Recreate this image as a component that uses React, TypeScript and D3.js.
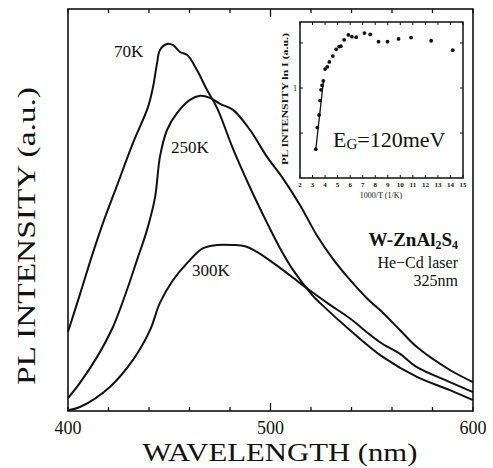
import React, { useEffect, useRef } from 'react';
import * as d3 from 'd3';

// main spectra (wavelength nm, intensity a.u. 0..100)
const wl70 = [400, 405.9, 411.7, 417.3, 424.0, 432.1, 439.5, 442.0, 444.0, 445.4, 448.9, 451.9, 455.3, 458.8, 463.7, 468.6, 473.6, 481.5, 489.9, 498.3, 504.7, 511.1, 520.5, 524.4, 539.3, 555.6, 572.3, 588.6, 600];
const int70 = [19.7, 29.0, 38.4, 46.8, 55.8, 66.7, 75.6, 80.6, 86.6, 89.8, 91.3, 91.0, 89.3, 88.6, 84.8, 79.9, 75.4, 65.2, 55.6, 46.8, 40.5, 35.1, 28.9, 26.9, 20.1, 13.4, 8.5, 5.2, 2.7];

const wl250 = [400, 405.9, 414.3, 422.2, 429.1, 434.1, 439.0, 443.0, 445.4, 448.9, 453.8, 460.2, 465.2, 470.1, 475.1, 481.5, 489.9, 498.3, 506.2, 514.6, 523.0, 530.9, 539.3, 547.7, 554.1, 564.0, 572.3, 588.6, 600];
const int250 = [3.2, 7.0, 13.4, 20.9, 30.1, 37.6, 45.0, 53.2, 63.2, 69.9, 74.1, 77.4, 78.4, 77.9, 76.4, 74.9, 69.9, 63.2, 57.8, 51.2, 43.6, 37.8, 32.6, 28.0, 25.1, 20.1, 15.9, 10.2, 7.2];

const wl300 = [400, 405.9, 420.7, 432.1, 440.5, 445.4, 451.9, 458.8, 466.7, 473.6, 481.5, 487.4, 493.3, 504.7, 514.6, 521.0, 529.4, 539.3, 549.1, 555.6, 564.0, 572.3, 588.6, 600];
const int300 = [0.2, 1.0, 6.0, 12.7, 20.1, 26.9, 32.6, 36.8, 40.5, 41.3, 41.3, 41.0, 39.6, 35.6, 31.8, 29.4, 26.4, 23.0, 19.0, 16.6, 14.2, 10.9, 7.2, 4.7];

const xTickLabels = [400, 500, 600];

// inset: PL intensity (log) vs 1000/T
const invT = [3.26, 3.38, 3.52, 3.6, 3.68, 3.76, 3.86, 4.0, 4.18, 4.34, 4.62, 4.88, 5.12, 5.26, 5.52, 5.86, 6.14, 6.48, 7.14, 7.6, 8.26, 8.98, 9.86, 10.86, 12.46, 14.18];
const logI = [-1.36, -0.88, -0.6, -0.28, -0.04, 0.06, 0.16, 0.42, 0.47, 0.58, 0.71, 0.86, 0.92, 0.93, 1.07, 1.18, 1.14, 1.13, 1.22, 1.19, 1.03, 1.03, 1.09, 1.12, 1.05, 0.84];
const fitInvT = [3.26, 3.88];
const fitLogI = [-1.36, 0.18];
const insetTicks = [2, 3, 4, 5, 6, 7, 8, 9, 10, 11, 12, 13, 14, 15];

const FONT = '"Liberation Serif", "Times New Roman", serif';

const Chart = () => {
  const ref = useRef<SVGSVGElement>(null);

  useEffect(() => {
    const svg = d3.select(ref.current);
    svg.selectAll('*').remove();

    const x = d3.scaleLinear().domain([400, 600]).range([68, 473]);
    const y = d3.scaleLinear().domain([0, 100]).range([411, 9]);

    // frame
    svg.append('rect')
      .attr('x', 68).attr('y', 9).attr('width', 405).attr('height', 402)
      .attr('fill', 'none').attr('stroke', '#111').attr('stroke-width', 1.6);

    // inward ticks top & bottom
    d3.range(400, 601, 20).forEach((v) => {
      const len = v === 500 ? 8 : 4;
      svg.append('line').attr('x1', x(v)).attr('x2', x(v)).attr('y1', 411).attr('y2', 411 - len)
        .attr('stroke', '#111').attr('stroke-width', 1.3);
      svg.append('line').attr('x1', x(v)).attr('x2', x(v)).attr('y1', 9).attr('y2', 9 + len)
        .attr('stroke', '#111').attr('stroke-width', 1.3);
    });

    svg.selectAll('.xlab').data(xTickLabels).enter().append('text')
      .attr('x', (d) => x(d)).attr('y', 434)
      .attr('text-anchor', 'middle').attr('font-size', 18).attr('font-family', FONT)
      .attr('fill', '#111').text((d) => d);

    svg.append('text').attr('x', 280).attr('y', 461).attr('text-anchor', 'middle')
      .attr('font-size', 26).attr('font-family', FONT).attr('fill', '#111')
      .attr('textLength', 275).attr('lengthAdjust', 'spacingAndGlyphs')
      .text('WAVELENGTH (nm)');

    svg.append('text').attr('transform', 'translate(35,236) rotate(-90)').attr('text-anchor', 'middle')
      .attr('font-size', 26).attr('font-family', FONT).attr('fill', '#111')
      .attr('textLength', 298).attr('lengthAdjust', 'spacingAndGlyphs')
      .text('PL INTENSITY (a.u.)');

    const line = d3.line<[number, number]>()
      .x((d) => x(d[0])).y((d) => y(d[1]))
      .curve(d3.curveCatmullRom.alpha(0.5));

    [[wl70, int70], [wl250, int250], [wl300, int300]].forEach(([w, v]) => {
      svg.append('path')
        .datum(w.map((d, i) => [d, v[i]] as [number, number]))
        .attr('d', line).attr('fill', 'none').attr('stroke', '#111').attr('stroke-width', 2);
    });

    const lab = (t: string, px: number, py: number, size: number, anchor = 'start', weight = 'normal') =>
      svg.append('text').attr('x', px).attr('y', py).attr('font-size', size).attr('font-family', FONT)
        .attr('font-weight', weight).attr('text-anchor', anchor).attr('fill', '#111').text(t);

    lab('70K', 114, 57, 17);
    lab('250K', 171, 153, 17);
    lab('300K', 192, 276, 17);

    const wz = lab('', 458, 246, 19, 'end', 'bold');
    wz.append('tspan').text('W-ZnAl');
    wz.append('tspan').attr('font-size', 12).attr('dy', 3).text('2');
    wz.append('tspan').attr('dy', -3).text('S');
    wz.append('tspan').attr('font-size', 12).attr('dy', 3).text('4');
    lab('He\u2212Cd laser', 458, 268, 16, 'end');
    lab('325nm', 458, 286, 16, 'end');

    // inset
    const ix = d3.scaleLinear().domain([2, 15]).range([300, 463]);
    const iy = d3.scaleLinear().domain([-2, 1.467]).range([178, 22]);
    const g = svg.append('g');
    g.append('rect').attr('x', 300).attr('y', 22).attr('width', 163).attr('height', 156)
      .attr('fill', 'white').attr('stroke', '#111').attr('stroke-width', 1.5);

    insetTicks.forEach((v) => {
      g.append('line').attr('x1', ix(v)).attr('x2', ix(v)).attr('y1', 178).attr('y2', 175)
        .attr('stroke', '#111').attr('stroke-width', 1);
      g.append('line').attr('x1', ix(v)).attr('x2', ix(v)).attr('y1', 22).attr('y2', 25)
        .attr('stroke', '#111').attr('stroke-width', 1);
    });
    [-1, 0, 1].forEach((v) => {
      g.append('line').attr('x1', 300).attr('x2', 303).attr('y1', iy(v)).attr('y2', iy(v))
        .attr('stroke', '#111').attr('stroke-width', 1);
      g.append('line').attr('x1', 463).attr('x2', 460).attr('y1', iy(v)).attr('y2', iy(v))
        .attr('stroke', '#111').attr('stroke-width', 1);
    });
    g.selectAll('.ilab').data(insetTicks).enter().append('text')
      .attr('x', (d) => ix(d)).attr('y', 187).attr('text-anchor', 'middle')
      .attr('font-size', 7).attr('font-weight', 'bold').attr('font-family', FONT).attr('fill', '#111')
      .text((d) => d);
    g.append('text').attr('x', 297).attr('y', iy(0) + 3).attr('text-anchor', 'end')
      .attr('font-size', 8).attr('font-family', FONT).attr('fill', '#111').text('1');
    g.append('text').attr('x', 381).attr('y', 198).attr('text-anchor', 'middle')
      .attr('font-size', 8).attr('font-family', FONT).attr('fill', '#111').text('1000/T (1/K)');
    g.append('text').attr('transform', 'translate(288,99) rotate(-90)').attr('text-anchor', 'middle')
      .attr('font-size', 8).attr('font-weight', 'bold').attr('font-family', FONT).attr('fill', '#111')
      .attr('textLength', 132).attr('lengthAdjust', 'spacingAndGlyphs')
      .text('PL INTENSITY ln I (a.u.)');

    g.append('path')
      .datum(fitInvT.map((d, i) => [d, fitLogI[i]] as [number, number]))
      .attr('d', d3.line<[number, number]>().x((d) => ix(d[0])).y((d) => iy(d[1])))
      .attr('stroke', '#111').attr('stroke-width', 1.3).attr('fill', 'none');

    g.selectAll('.dot').data(invT).enter().append('circle')
      .attr('cx', (d) => ix(d)).attr('cy', (d, i) => iy(logI[i])).attr('r', 1.9).attr('fill', '#111');

    const eg = g.append('text').attr('x', 333).attr('y', 147).attr('font-size', 22)
      .attr('font-family', FONT).attr('fill', '#111');
    eg.append('tspan').text('E');
    eg.append('tspan').attr('font-size', 15).attr('dy', 2).text('G');
    eg.append('tspan').attr('dy', -2).text('=120meV');
  }, []);

  return (
    <svg ref={ref} width={493} height={468}
      style={{ position: 'absolute', left: 0, top: 0, background: 'white' }} />
  );
};

export default function App() {
  return <Chart />;
}
